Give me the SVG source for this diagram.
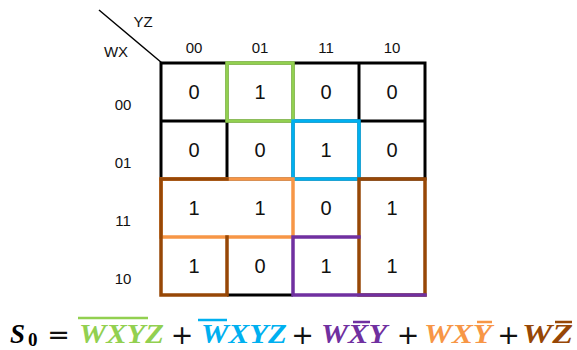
<svg xmlns="http://www.w3.org/2000/svg" width="577" height="350" viewBox="0 0 577 350">
<style>
.lbl{font-family:"Liberation Sans",Arial,sans-serif;font-size:15px;fill:#111;text-anchor:middle}
.val{font-family:"Liberation Sans",Arial,sans-serif;font-size:20px;fill:#111;text-anchor:middle}
.g{fill:none;stroke:#000;stroke-width:3}
.k{fill:none;stroke-width:3.5;stroke-linecap:square}
.eq{font-family:"Liberation Serif","Times New Roman",serif;font-size:27px;font-weight:bold;font-style:italic}
.op{font-family:"DejaVu Sans",sans-serif;font-size:27px;fill:#111;text-anchor:middle}
.ov{stroke-width:2.5}
</style>
<g id="header">
<line x1="99" y1="10" x2="162" y2="63" stroke="#000" stroke-width="1.5"/>
<text class="lbl" x="143" y="27">YZ</text>
<text class="lbl" x="116" y="57">WX</text>
<text class="lbl" x="194" y="53">00</text>
<text class="lbl" x="260" y="53">01</text>
<text class="lbl" x="326" y="53">11</text>
<text class="lbl" x="392" y="53">10</text>
<text class="lbl" x="123" y="110">00</text>
<text class="lbl" x="123" y="168">01</text>
<text class="lbl" x="123" y="226">11</text>
<text class="lbl" x="123" y="284">10</text>
</g>
<g id="grid">
<rect class="g" x="161" y="63" width="264" height="116"/>
<line class="g" x1="161" y1="121" x2="425" y2="121"/>
<line class="g" x1="227" y1="63" x2="227" y2="179"/>
<line class="g" x1="293" y1="63" x2="293" y2="179"/>
<line class="g" x1="359" y1="63" x2="359" y2="179"/>
<line class="g" x1="227" y1="295" x2="293" y2="295"/>
</g>
<g id="cells">
<text class="val" x="194" y="99">0</text>
<text class="val" x="260" y="99">1</text>
<text class="val" x="326" y="99">0</text>
<text class="val" x="392" y="99">0</text>
<text class="val" x="194" y="157">0</text>
<text class="val" x="260" y="157">0</text>
<text class="val" x="326" y="157">1</text>
<text class="val" x="392" y="157">0</text>
<text class="val" x="194" y="215">1</text>
<text class="val" x="260" y="215">1</text>
<text class="val" x="326" y="215">0</text>
<text class="val" x="392" y="215">1</text>
<text class="val" x="194" y="273">1</text>
<text class="val" x="260" y="273">0</text>
<text class="val" x="326" y="273">1</text>
<text class="val" x="392" y="273">1</text>
</g>
<g id="groups">
<rect id="green" class="k" x="227" y="63" width="66" height="58" stroke="#92D050"/>
<rect id="blue" class="k" x="293" y="121" width="66" height="58" stroke="#00B0F0"/>
<rect id="orange" class="k" x="161" y="179" width="132" height="58" stroke="#F79646"/>
<path id="brown-left" class="k" d="M227,237 V295 H161 V179 H227" stroke="#974706"/>
<rect id="brown-right" class="k" x="359" y="179" width="66" height="116" stroke="#974706"/>
<path id="purple" class="k" d="M359,237 H293 V295 H425" stroke="#7030A0"/>
</g>
<g id="equation">
<text class="eq" x="10" y="343" font-size="29" fill="#000">S</text>
<text x="28" y="346" font-family="Liberation Serif,serif" font-size="19" font-weight="bold" fill="#000">0</text>
<text class="op" x="58.5" y="344">=</text>
<text class="eq" x="79" y="343" fill="#92D050" textLength="85" lengthAdjust="spacingAndGlyphs">WXYZ</text>
<line class="ov" x1="78" y1="318" x2="148" y2="318" stroke="#92D050"/>
<text class="op" x="182" y="344">+</text>
<text class="eq" x="201" y="343" fill="#00B0F0" textLength="86" lengthAdjust="spacingAndGlyphs">WXYZ</text>
<line class="ov" x1="198" y1="320" x2="227" y2="320" stroke="#00B0F0"/>
<text class="op" x="302.5" y="344">+</text>
<text class="eq" x="321" y="343" fill="#7030A0" textLength="66" lengthAdjust="spacingAndGlyphs">WXY</text>
<line class="ov" x1="353" y1="322" x2="370" y2="322" stroke="#7030A0"/>
<text class="op" x="408" y="344">+</text>
<text class="eq" x="424" y="343" fill="#F79646" textLength="68" lengthAdjust="spacingAndGlyphs">WXY</text>
<line class="ov" x1="477" y1="322" x2="492" y2="322" stroke="#F79646"/>
<text class="op" x="508.5" y="344">+</text>
<text class="eq" x="522" y="343" fill="#974706" textLength="51" lengthAdjust="spacingAndGlyphs">WZ</text>
<line class="ov" x1="555" y1="322" x2="572" y2="322" stroke="#974706"/>
</g>
</svg>
